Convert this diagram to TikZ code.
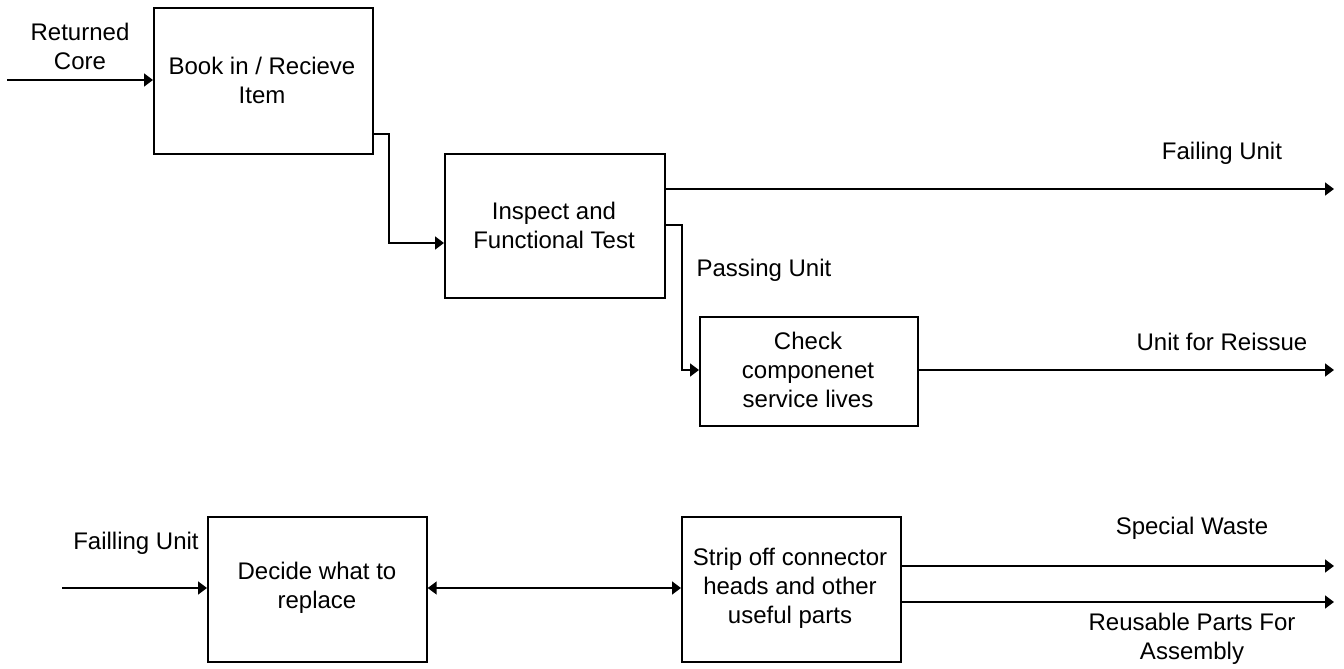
\documentclass[tikz,border=0pt]{standalone}
\usepackage{fontspec}
\setmainfont{Liberation Sans}
\usetikzlibrary{arrows.meta}
\begin{document}
\begin{tikzpicture}[x=1pt,y=-1pt,
  every node/.style={font=\fontsize{24}{29}\selectfont},
  procbox/.style={draw=black,line width=1.7pt,rectangle,inner sep=0pt,anchor=north west,align=center},
  flow/.style={line width=1.6pt,-{Triangle[length=9pt,width=13pt]}},
  both/.style={line width=1.6pt,{Triangle[length=9pt,width=13pt]}-{Triangle[length=9pt,width=13pt]}},
  lbl/.style={align=center,inner sep=0pt}]
\useasboundingbox (0,0) rectangle (1344,669);

% process boxes
\node[procbox,minimum width=219pt,minimum height=146pt] (book) at (153,7) {};
\node[lbl] at (262,80) {Book in / Recieve\\Item};
\node[procbox,minimum width=220pt,minimum height=144pt] (test) at (444,153) {};
\node[lbl] at (554,225) {Inspect and\\Functional Test};
\node[procbox,minimum width=218pt,minimum height=109pt] (check) at (699,316) {};
\node[lbl] at (808,370) {Check\\componenet\\service lives};
\node[procbox,minimum width=219pt,minimum height=145pt] (decide) at (207,516) {};
\node[lbl] at (317,588) {Decide what to\\replace};
\node[procbox,minimum width=219pt,minimum height=145pt] (strip) at (681,516) {};
\node[lbl] at (790,588) {Strip off connector\\heads and other\\useful parts};

% free ends
\coordinate (inA) at (7,80);
\coordinate (inB) at (62,588);
\coordinate (outFail) at (1334,189);
\coordinate (outReissue) at (1334,370);
\coordinate (outWaste) at (1334,566);
\coordinate (outReuse) at (1334,602);

% connectors
\draw[flow] (inA) -- (book.west |- inA);
\draw[flow] (book.east |- 0,134) -- (389,134) -- (389,243) -- (test.west |- 0,243);
\draw[flow] (test.east |- outFail) -- (outFail);
\draw[flow] (test.east |- 0,225) -- (682,225) -- (682,370) -- (check.west |- 0,370);
\draw[flow] (check.east |- outReissue) -- (outReissue);
\draw[flow] (inB) -- (decide.west |- inB);
\draw[both] (decide.east |- inB) -- (strip.west |- inB);
\draw[flow] (strip.east |- outWaste) -- (outWaste);
\draw[flow] (strip.east |- outReuse) -- (outReuse);

% labels
\node[lbl] (lret) at (80,46) {Returned\\Core};
\node[lbl] (lfail) at (1222,153) {Failing Unit};
\node[lbl] (lpass) at (764,270) {Passing Unit};
\node[lbl] (lreis) at (1222,342) {Unit for Reissue};
\node[lbl] (lfailing) at (136,543) {Failling Unit};
\node[lbl] (lwaste) at (1192,528) {Special Waste};
\node[lbl] (lreuse) at (1192,639) {Reusable Parts For\\Assembly};
\end{tikzpicture}
\end{document}
